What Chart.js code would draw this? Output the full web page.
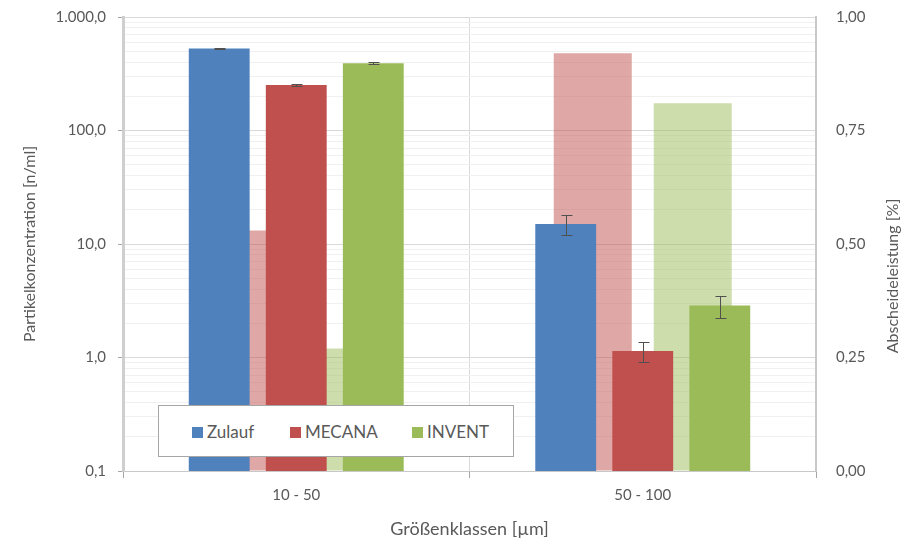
<!DOCTYPE html>
<html>
<head>
<meta charset="utf-8">
<script src="https://cdn.jsdelivr.net/npm/chart.js@4/dist/chart.umd.min.js"></script>
<style>
  html, body { margin: 0; padding: 0; background: #fff; }
  #wrap { position: relative; width: 904px; height: 544px; }
  #wrap canvas { position: absolute; left: 0; top: 0; }
  #legend {
    position: absolute; left: 158px; top: 405px; width: 356px; height: 52px;
    background: #fff; border: 1px solid #a6a6a6; box-sizing: border-box;
    font-family: Lato, "Open Sans", sans-serif; font-size: 17px; color: #595959;
  }
  #legend span.item { position: absolute; top: 16px; line-height: 20px; white-space: nowrap; }
  #legend i { display: inline-block; width: 11px; height: 11px; margin-right: 4px; vertical-align: 0px; }
</style>
</head>
<body>
<div id="wrap">
  <canvas id="base" width="904" height="544"></canvas>
  <canvas id="front" width="904" height="544"></canvas>
  <div id="legend"></div>
</div>
<script>
const categories = ["10 - 50", "50 - 100"];

// Partikelkonzentration [n/ml]
const zulauf = [528, 15.0];
const mecana = [252, 1.14];
const invent = [392, 2.87];

// standard deviations
const zulaufErr = [6, 3.1];
const mecanaErr = [4, 0.22];
const inventErr = [6, 0.63];

// Abscheideleistung (right axis)
const mecanaAbscheidung = [0.53, 0.92];
const inventAbscheidung = [0.27, 0.81];

const decadeTicks = [0.1, 1, 10, 100, 1000];
const decadeLabels = ["0,1", "1,0", "10,0", "100,0", "1.000,0"];
const minorSteps = [2, 3, 4, 5, 6, 7, 8, 9];

const rightTicks = [0, 0.25, 0.5, 0.75, 1];
const rightLabels = ["0,00", "0,25", "0,50", "0,75", "1,00"];
const rightTitle = "Abscheideleistung [%]";

const blue = "#4f81bd", red = "#c0504d", green = "#9bbb59";
const textColor = "#595959";
const family = "Lato, 'Open Sans', sans-serif";
const tickFont = { family, size: 15 };

// plot area margins
const area = { left: 123, right: 88, top: 17, bottom: 73 };

const isDecade = v => decadeTicks.some(d => Math.abs(d - v) < d * 1e-6);

const errorBars = {
  id: "errorBars",
  afterDatasetsDraw(chart) {
    const { ctx } = chart;
    const y = chart.scales.y;
    ctx.save();
    ctx.strokeStyle = "#505050";
    ctx.lineWidth = 1;
    chart.data.datasets.forEach((ds, i) => {
      if (!ds.errors) return;
      chart.getDatasetMeta(i).data.forEach((bar, j) => {
        const v = ds.data[j], e = ds.errors[j];
        const top = Math.round(y.getPixelForValue(v + e)) + 0.5;
        const bot = Math.round(y.getPixelForValue(v - e)) + 0.5;
        const x = Math.round(bar.x) + 0.5;
        ctx.beginPath();
        ctx.moveTo(x, top); ctx.lineTo(x, bot);
        ctx.moveTo(x - 5, top); ctx.lineTo(x + 6, top);
        ctx.moveTo(x - 5, bot); ctx.lineTo(x + 6, bot);
        ctx.stroke();
      });
    });
    ctx.restore();
  }
};

// right axis title reads bottom-to-top like the left one
const rightAxisTitle = {
  id: "rightAxisTitle",
  afterDraw(chart) {
    const { ctx } = chart;
    const s = chart.scales.y2;
    ctx.save();
    ctx.translate(s.right - 11, (chart.chartArea.top + chart.chartArea.bottom) / 2 + 32);
    ctx.rotate(-Math.PI / 2);
    ctx.font = `16px ${family}`;
    ctx.fillStyle = textColor;
    ctx.textAlign = "center";
    ctx.textBaseline = "middle";
    ctx.fillText(rightTitle, 0, 0);
    ctx.restore();
  }
};

// vertical axes: fixed width, no extra label overflow padding
const fitY = w => s => { s.width = w; s.paddingTop = 0; s.paddingBottom = 0; };

// back chart: axes, grid, titles and the translucent Abscheideleistung bars
const base = new Chart(document.getElementById("base"), {
  type: "bar",
  data: {
    labels: categories,
    datasets: [
      { label: "MECANA Abscheideleistung", data: mecanaAbscheidung, backgroundColor: "rgba(192,80,77,0.5)", yAxisID: "y2" },
      { label: "INVENT Abscheideleistung", data: inventAbscheidung, backgroundColor: "rgba(155,187,89,0.5)", yAxisID: "y2" }
    ]
  },
  options: {
    responsive: false,
    animation: false,
    layout: { padding: { top: area.top, left: 0, right: 0, bottom: 0 } },
    datasets: { bar: { categoryPercentage: 0.577, barPercentage: 0.78 } },
    plugins: { legend: { display: false }, tooltip: { enabled: false } },
    scales: {
      x: {
        grid: { offset: true, color: "#d9d9d9", tickLength: 7, tickColor: "#a6a6a6" },
        border: { color: "#c8c8c8" },
        ticks: { color: textColor, font: tickFont, padding: 8 },
        title: { display: true, text: "Größenklassen [µm]", color: textColor, font: { family, size: 18 }, padding: { top: 4, bottom: 4 } },
        afterFit: s => { s.height = area.bottom; }
      },
      y: {
        type: "logarithmic",
        position: "left",
        min: 0.1,
        max: 1000,
        afterBuildTicks: s => {
          const t = [];
          decadeTicks.forEach((d, i) => {
            t.push({ value: d });
            if (i < decadeTicks.length - 1) minorSteps.forEach(m => t.push({ value: +(d * m).toPrecision(3) }));
          });
          s.ticks = t;
        },
        ticks: {
          color: textColor, font: tickFont, padding: 12, autoSkip: false,
          callback: v => { const i = decadeTicks.findIndex(d => Math.abs(d - v) < d * 1e-6); return i >= 0 ? decadeLabels[i] : ""; }
        },
        grid: {
          color: c => isDecade(c.tick.value) ? "#d9d9d9" : "#f0f0f0",
          tickColor: c => isDecade(c.tick.value) ? "#a6a6a6" : "rgba(0,0,0,0)",
          tickLength: 5
        },
        border: { color: "#cfcfcf", width: 3 },
        title: { display: true, text: "Partikelkonzentration [n/ml]", color: textColor, font: { family, size: 16 }, padding: { top: 20 } },
        afterFit: fitY(area.left)
      },
      y2: {
        position: "right",
        min: 0,
        max: 1,
        afterBuildTicks: s => { s.ticks = rightTicks.map(v => ({ value: v })); },
        ticks: { color: textColor, font: tickFont, padding: 20, callback: (v, i) => rightLabels[i] },
        grid: { drawOnChartArea: false, drawTicks: false },
        border: { color: "#c8c8c8", width: 2 },
        afterFit: fitY(area.right)
      }
    }
  },
  plugins: [rightAxisTitle]
});

// front chart: the concentration bars with error bars, same plot area as the back chart
const ca = base.chartArea;
new Chart(document.getElementById("front"), {
  type: "bar",
  data: {
    labels: categories,
    datasets: [
      { label: "Zulauf", data: zulauf, errors: zulaufErr, backgroundColor: blue },
      { label: "MECANA", data: mecana, errors: mecanaErr, backgroundColor: red },
      { label: "INVENT", data: invent, errors: inventErr, backgroundColor: green }
    ]
  },
  options: {
    responsive: false,
    animation: false,
    layout: { padding: { left: ca.left, top: ca.top, right: 904 - ca.right, bottom: 544 - ca.bottom } },
    datasets: { bar: { categoryPercentage: 0.667, barPercentage: 0.79 } },
    plugins: { legend: { display: false }, tooltip: { enabled: false } },
    scales: {
      x: { display: false },
      y: { type: "logarithmic", display: false, min: 0.1, max: 1000 }
    }
  },
  plugins: [errorBars]
});

// legend box inside the plot area
const legendItems = [["Zulauf", blue, 33], ["MECANA", red, 131], ["INVENT", green, 253]];
const legend = document.getElementById("legend");
legendItems.forEach(([name, color, left]) => {
  const s = document.createElement("span");
  s.className = "item";
  s.style.left = left + "px";
  s.innerHTML = `<i style="background:${color}"></i>${name}`;
  legend.appendChild(s);
});
</script>
</body>
</html>
